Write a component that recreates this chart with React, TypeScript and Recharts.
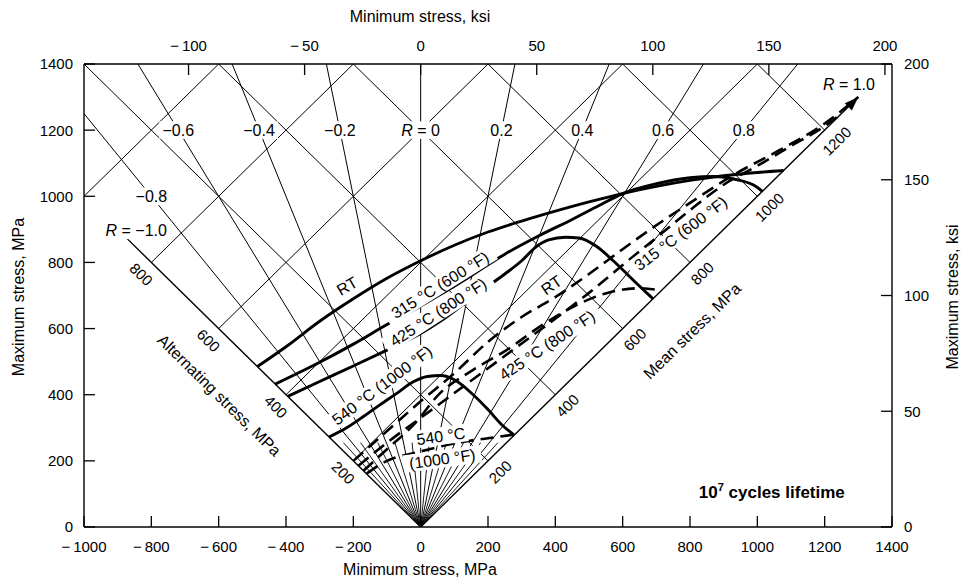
import React from 'react';
import { ComposedChart, Line, XAxis, YAxis, ReferenceDot } from 'recharts';

type Pt = [number, number];

const FONT = '"Liberation Sans", Arial, Helvetica, sans-serif';
const MPA_PER_KSI = 6.895;

// axis ticks
const minStressTicks = [-1000, -800, -600, -400, -200, 0, 200, 400, 600, 800, 1000, 1200, 1400];
const maxStressTicks = [0, 200, 400, 600, 800, 1000, 1200, 1400];
const minKsiTicks = [-100, -50, 0, 50, 100, 150, 200];
const maxKsiTicks = [0, 50, 100, 150, 200];

// constant-R rays, diamond grid levels, diagonal axis labels
const ratioRays = [-1, -0.8, -0.6, -0.4, -0.2, 0, 0.2, 0.4, 0.6, 0.8, 1];
const fineRays = [-0.9, -0.7, -0.5, -0.3, -0.1, 0.1, 0.3, 0.5, 0.7, 0.9];
const ratioLabels = [-1, -0.8, -0.6, -0.4, -0.2, 0, 0.2, 0.4, 0.6, 0.8, 1];
const altLevels = [200, 400, 600, 800, 1000];
const meanLevels = [200, 400, 600, 800, 1000, 1200];
const altAxisLabels = [200, 400, 600, 800];
const meanAxisLabels = [200, 400, 600, 800, 1000, 1200];

// solid curves, [min stress, max stress] in MPa
const rtSolid: Pt[] = [
  [-485, 485], [-400, 545], [-300, 622], [-200, 690], [-100, 752], [0, 805], [100, 852],
  [200, 892], [300, 925], [400, 955], [500, 983], [602, 1009], [700, 1030], [800, 1048],
  [900, 1062], [1000, 1072], [1078, 1078],
];
const c315Solid: Pt[] = [
  [-432, 432], [-300, 498], [-200, 553], [-100, 612], [0, 668], [57, 702], [150, 760],
  [250, 825], [350, 880], [450, 930], [530, 972], [602, 1009], [700, 1038], [800, 1056],
  [870, 1060], [940, 1050], [990, 1033], [1015, 1015],
];
const c425Solid: Pt[] = [
  [-395, 395], [-300, 440], [-200, 487], [-100, 535], [0, 585], [57, 621], [176, 711],
  [250, 765], [300, 805], [340, 845], [380, 868], [430, 876], [470, 874], [523, 848],
  [572, 805], [641, 737], [690, 690],
];
const c540Solid: Pt[] = [
  [-272, 272], [-220, 300], [-170, 334], [-120, 370], [-71, 404], [-22, 439], [20, 455],
  [60, 458], [100, 445], [156, 400], [200, 355], [240, 310], [278, 278],
];

// dashed curves
const rtDashed: Pt[] = [
  [-200, 200], [-100, 290], [0, 380], [100, 465], [200, 560], [300, 635], [400, 695],
  [500, 765], [600, 840], [711, 920], [800, 980], [930, 1065], [1067, 1140], [1200, 1220],
  [1300, 1300],
];
const c315Dashed: Pt[] = [
  [-185, 185], [-100, 255], [0, 330], [100, 405], [200, 480], [300, 555], [400, 630],
  [500, 708], [600, 792], [700, 875], [800, 958], [900, 1035], [1000, 1092], [1100, 1152],
  [1200, 1212], [1250, 1250],
];
const c425Dashed: Pt[] = [
  [-170, 170], [-100, 235], [-20, 310], [57, 404], [156, 475], [255, 535], [354, 606],
  [453, 666], [552, 707], [651, 722], [715, 715],
];
const c540Dashed: Pt[] = [
  [-160, 162], [-106, 197], [-2, 228], [57, 243], [146, 261], [220, 271], [280, 280],
];

const solidCurves = [rtSolid, c315Solid, c425Solid, c540Solid];
const dashedCurves = [rtDashed, c315Dashed, c425Dashed, c540Dashed];

// curve captions: text, anchor [min, max], rotation
const curveNotes: { text: string; at: Pt; angle: number }[] = [
  { text: 'RT', at: [-219, 729], angle: -30 },
  { text: '315 °C (600 °F)', at: [57, 732], angle: -32 },
  { text: '425 °C (800 °F)', at: [52, 650], angle: -33 },
  { text: '540 °C (1000 °F)', at: [-115, 429], angle: -37 },
  { text: 'RT', at: [388, 732], angle: -35 },
  { text: '315 °C (600 °F)', at: [772, 888], angle: -37 },
  { text: '425 °C (800 °F)', at: [375, 550], angle: -34 },
  { text: '540 °C', at: [60, 275], angle: -8 },
  { text: '(1000 °F)', at: [64, 206], angle: -8 },
];

const rows = (pts: Pt[]) => pts.map(([min, max]) => ({ min, max }));

const signed = (v: number) => (v < 0 ? `\u2212\u2009${Math.abs(v)}` : `${v}`);

function rayEnd(r: number): Pt {
  if (r === 1) return [1300, 1300];
  if (r === -1) return [-875, 875];
  const x = r * 1400;
  return x < -1000 ? [-1000, -1000 / r] : [x, 1400];
}

function ratioText(r: number) {
  const s = r < 0 ? `\u2212${Math.abs(r).toFixed(1)}` : r === 0 ? '0' : r.toFixed(1);
  return Math.abs(r) === 1 || r === 0 ? `R = ${s}` : s;
}

function ratioAnchor(r: number): Pt {
  if (r === -1) return [-845, 897];
  if (r === 1) return [1272, 1338];
  if (r === -0.8) return [-800, 1000];
  return [r * 1200, 1200];
}

function Tag(props: any) {
  const { cx, cy, text, angle = 0, size = 16, bg = true, weight = 'normal' } = props;
  const w = text.length * size * 0.5;
  const italicR = text.startsWith('R = ');
  return (
    <g transform={`translate(${cx},${cy}) rotate(${angle})`}>
      {bg && <rect x={-w / 2 - 3} y={-size * 0.55} width={w + 6} height={size * 1.1} fill="#fff" />}
      <text
        x={0}
        y={0}
        dy="0.36em"
        textAnchor="middle"
        fontSize={size}
        fontWeight={weight}
        fontFamily={FONT}
        fill="#000"
      >
        {italicR ? (
          <>
            <tspan fontStyle="italic">R</tspan>
            {text.slice(1)}
          </>
        ) : (
          text
        )}
      </text>
    </g>
  );
}

const tickFont = { fontSize: 15, fontFamily: FONT, fill: '#000' };

const BottomTick = (p: any) => (
  <g>
    <line x1={p.x} x2={p.x} y1={p.y} y2={p.y - 11} stroke="#000" strokeWidth={1.3} />
    <text x={p.x} y={p.y + 25} textAnchor="middle" {...tickFont}>{signed(p.payload.value)}</text>
  </g>
);
const TopTick = (p: any) => (
  <g>
    <line x1={p.x} x2={p.x} y1={p.y} y2={p.y + 11} stroke="#000" strokeWidth={1.3} />
    <text x={p.x} y={p.y - 13} textAnchor="middle" {...tickFont}>
      {signed(Math.round(p.payload.value / MPA_PER_KSI))}
    </text>
  </g>
);
const LeftTick = (p: any) => (
  <g>
    <line x1={p.x} x2={p.x + 11} y1={p.y} y2={p.y} stroke="#000" strokeWidth={1.3} />
    <text x={p.x - 11} y={p.y} dy="0.36em" textAnchor="end" {...tickFont}>{p.payload.value}</text>
  </g>
);
const RightTick = (p: any) => (
  <g>
    <line x1={p.x} x2={p.x - 11} y1={p.y} y2={p.y} stroke="#000" strokeWidth={1.3} />
    <text x={p.x + 12} y={p.y} dy="0.36em" textAnchor="start" {...tickFont}>{p.payload.value}</text>
  </g>
);

function AxisTitle(props: any) {
  const { viewBox, side, text } = props;
  const vb = viewBox || { x: 0, y: 0, width: 0, height: 0 };
  const common = { fontSize: 16, fontFamily: FONT, fill: '#000', textAnchor: 'middle' as const };
  if (side === 'bottom') return <text x={420} y={vb.y + 48} {...common}>{text}</text>;
  if (side === 'top') return <text x={420} y={22} {...common}>{text}</text>;
  if (side === 'left')
    return <text transform={`translate(24,297) rotate(-90)`} {...common}>{text}</text>;
  return <text transform={`translate(958,297) rotate(-90)`} {...common}>{text}</text>;
}

const axisLine = { stroke: '#000', strokeWidth: 1.4 };
const ids = { xAxisId: 'mpa', yAxisId: 'mpa' };

export default function App() {
  // the ksi scale along the top shares the MPa range; its tick rows anchor that axis
  const ksiTickRows = minKsiTicks.map((k) => ({ min: k * MPA_PER_KSI, max: 0 }));
  return (
    <div style={{ position: 'absolute', left: 0, top: 0, width: 974, height: 585, background: '#fff' }}>
      <ComposedChart width={974} height={585} margin={{ top: 0, right: 0, bottom: 0, left: 0 }}>
        <XAxis
          xAxisId="mpa"
          dataKey="min"
          type="number"
          domain={[-1000, 1400]}
          ticks={minStressTicks}
          allowDataOverflow
          interval={0}
          height={58}
          tickLine={false}
          tickSize={0}
          tickMargin={0}
          axisLine={axisLine}
          tick={BottomTick}
          label={<AxisTitle side="bottom" text="Minimum stress, MPa" />}
        />
        <XAxis
          xAxisId="top"
          orientation="top"
          dataKey="min"
          type="number"
          domain={[-1000, 1400]}
          ticks={ksiTickRows.map((t) => t.min)}
          allowDataOverflow
          interval={0}
          height={64}
          tickLine={false}
          tickSize={0}
          tickMargin={0}
          axisLine={axisLine}
          tick={TopTick}
          label={<AxisTitle side="top" text="Minimum stress, ksi" />}
        />
        <YAxis
          yAxisId="mpa"
          type="number"
          domain={[0, 1400]}
          ticks={maxStressTicks}
          allowDataOverflow
          interval={0}
          width={84}
          tickLine={false}
          tickSize={0}
          tickMargin={0}
          axisLine={axisLine}
          tick={LeftTick}
          label={<AxisTitle side="left" text="Maximum stress, MPa" />}
        />
        <YAxis
          yAxisId="ksi"
          orientation="right"
          type="number"
          domain={[0, 200]}
          ticks={maxKsiTicks}
          allowDataOverflow
          interval={0}
          width={82}
          tickLine={false}
          tickSize={0}
          tickMargin={0}
          axisLine={axisLine}
          tick={RightTick}
          label={<AxisTitle side="right" text="Maximum stress, ksi" />}
        />

        <Line
          xAxisId="top"
          yAxisId="mpa"
          data={ksiTickRows}
          dataKey="max"
          stroke="none"
          dot={false}
          activeDot={false}
          legendType="none"
          isAnimationActive={false}
        />

        {altLevels.map((a) => (
          <Line
            key={`sa${a}`}
            {...ids}
            data={rows([[-a, a], [1400 - 2 * a, 1400]])}
            dataKey="max"
            type="linear"
            stroke="#000"
            strokeWidth={1}
            dot={false}
            activeDot={false}
            isAnimationActive={false}
          />
        ))}
        {meanLevels.map((m) => (
          <Line
            key={`sm${m}`}
            {...ids}
            data={rows([[2 * m - 1400, 1400], [m, m]])}
            dataKey="max"
            type="linear"
            stroke="#000"
            strokeWidth={1}
            dot={false}
            activeDot={false}
            isAnimationActive={false}
          />
        ))}
        {ratioRays.map((r) => {
          const end = rayEnd(r);
          const pts: Pt[] = end[0] < 0 ? [end, [0, 0]] : [[0, 0], end];
          return (
            <Line
              key={`r${r}`}
              {...ids}
              data={rows(pts)}
              dataKey="max"
              type="linear"
              stroke="#000"
              strokeWidth={Math.abs(r) === 1 ? 1.4 : 1}
              dot={false}
              activeDot={false}
              isAnimationActive={false}
            />
          );
        })}
        {fineRays.map((r) => {
          const pts: Pt[] = r < 0 ? [[r * 255, 255], [0, 0]] : [[0, 0], [r * 255, 255]];
          return (
            <Line
              key={`f${r}`}
              {...ids}
              data={rows(pts)}
              dataKey="max"
              type="linear"
              stroke="#000"
              strokeWidth={0.9}
              dot={false}
              activeDot={false}
              isAnimationActive={false}
            />
          );
        })}

        {solidCurves.map((c, i) => (
          <Line
            key={`s${i}`}
            {...ids}
            data={rows(c)}
            dataKey="max"
            type="monotone"
            stroke="#000"
            strokeWidth={2.9}
            dot={false}
            activeDot={false}
            isAnimationActive={false}
          />
        ))}
        {dashedCurves.map((c, i) => (
          <Line
            key={`d${i}`}
            {...ids}
            data={rows(c)}
            dataKey="max"
            type="monotone"
            stroke="#000"
            strokeWidth={2.6}
            strokeDasharray="13 7"
            dot={false}
            activeDot={false}
            isAnimationActive={false}
          />
        ))}

        {ratioLabels.map((r) => {
          const [x, y] = ratioAnchor(r);
          return (
            <ReferenceDot
              key={`rl${r}`}
              {...ids}
              x={x}
              y={y}
              r={0}
              shape={(p: any) => <Tag cx={p.cx} cy={p.cy} text={ratioText(r)} size={16} />}
            />
          );
        })}
        <ReferenceDot
          {...ids}
          x={rtDashed[rtDashed.length - 1][0]}
          y={rtDashed[rtDashed.length - 1][1]}
          r={0}
          shape={(p: any) => (
            <polygon
              points="0,0 -14,-5 -14,5"
              transform={`translate(${p.cx},${p.cy}) rotate(-44.5)`}
              fill="#000"
            />
          )}
        />
        {altAxisLabels.map((a) => (
          <ReferenceDot
            key={`al${a}`}
            {...ids}
            x={-a - 30}
            y={a - 36}
            r={0}
            shape={(p: any) => <Tag cx={p.cx} cy={p.cy} text={String(a)} angle={44.5} size={15} bg={false} />}
          />
        ))}
        {meanAxisLabels.map((m) => (
          <ReferenceDot
            key={`ml${m}`}
            {...ids}
            x={m + 36}
            y={m - 33}
            r={0}
            shape={(p: any) => <Tag cx={p.cx} cy={p.cy} text={String(m)} angle={-44.5} size={15} bg={false} />}
          />
        ))}
        <ReferenceDot
          {...ids}
          x={-598}
          y={399}
          r={0}
          shape={(p: any) => <Tag cx={p.cx} cy={p.cy} text="Alternating stress, MPa" angle={44.5} size={16} bg={false} />}
        />
        <ReferenceDot
          {...ids}
          x={806}
          y={593}
          r={0}
          shape={(p: any) => <Tag cx={p.cx} cy={p.cy} text="Mean stress, MPa" angle={-44.5} size={16} bg={false} />}
        />
        {curveNotes.map((n, i) => (
          <ReferenceDot
            key={`cn${i}`}
            {...ids}
            x={n.at[0]}
            y={n.at[1]}
            r={0}
            shape={(p: any) => <Tag cx={p.cx} cy={p.cy} text={n.text} angle={n.angle} size={16} />}
          />
        ))}
        <ReferenceDot
          {...ids}
          x={1043}
          y={106}
          r={0}
          shape={(p: any) => (
            <text x={p.cx} y={p.cy} dy="0.36em" textAnchor="middle" fontSize={17} fontWeight="bold" fontFamily={FONT}>
              10<tspan fontSize={11} dy={-7}>7</tspan>
              <tspan dy={7}> cycles lifetime</tspan>
            </text>
          )}
        />
      </ComposedChart>
    </div>
  );
}
